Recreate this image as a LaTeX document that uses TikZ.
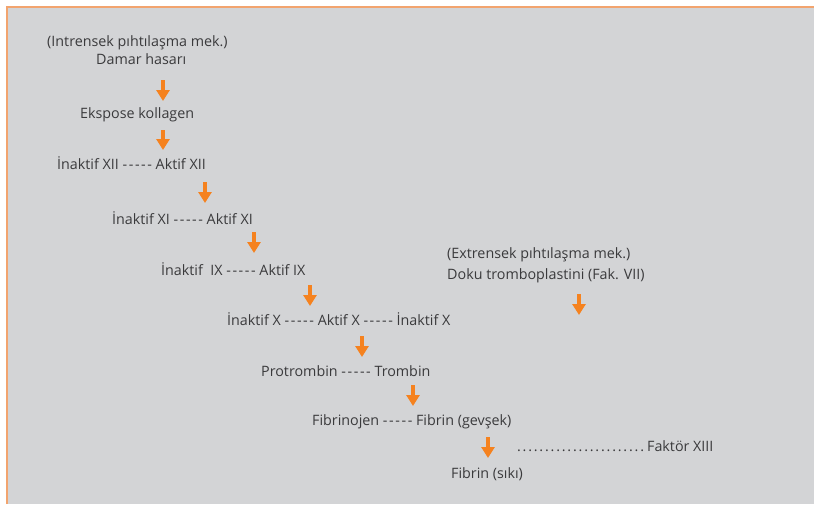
\documentclass[tikz,border=0pt]{standalone}
\usepackage{fontspec}
\setmainfont{Open Sans}
\usepackage{tikz}
\usetikzlibrary{arrows.meta,positioning}
\definecolor{panelgray}{HTML}{D3D4D6}
\definecolor{frameorange}{HTML}{F2A46E}
\definecolor{floworange}{HTML}{F5821F}
\definecolor{textgray}{HTML}{3A3A3C}
\newcommand{\fivedash}{-\kern1.6pt-\kern1.6pt-\kern1.6pt-\kern1.6pt-}
\tikzset{
  steptext/.style={
    anchor=base west,
    inner sep=0pt,
    text=textgray,
    font=\fontsize{14.3}{17}\selectfont
  },
  okarrow/.style={
    -{Triangle[length=11pt,width=13pt]},
    line width=3.2pt,
    draw=floworange
  }
}
\begin{document}
\begin{tikzpicture}[x=1pt,y=-1pt]
\useasboundingbox (0,0) rectangle (814,504);
\fill[panelgray] (8,8) rectangle (814,504);
\draw[frameorange, line width=2pt] (7,504) -- (7,7) -- (814,7);
% intrinsic pathway
\node[steptext] (intr) at (47,46) {(Intrensek pıhtılaşma mek.)};
\node[steptext] (damar) at (96,64) {Damar hasarı};
\node[steptext] (ekspose) at (80,118) {Ekspose kollagen};
\node[steptext] (xii) at (57,169) {İnaktif XII \fivedash{} Aktif XII};
\node[steptext] (xi) at (112,224) {İnaktif XI \fivedash{} Aktif XI};
\node[steptext] (ix) at (161,275) {İnaktif\ \ IX \fivedash{} Aktif IX};
\node[steptext] (x) at (227,325) {İnaktif X \fivedash{} Aktif X \fivedash{} İnaktif X};
\node[steptext] (protr) at (261,376) {Protrombin \fivedash{} Trombin};
\node[steptext] (fibrinojen) at (312,425) {Fibrinojen \fivedash{} Fibrin (gevşek)};
\node[steptext] (fibrin) at (451,478) {Fibrin (sıkı)};
\node[steptext] (faktor) at (516,451) {\hbox to 131pt{\leaders\hbox to 5.6pt{\hss.\hss}\hfill}Faktör XIII};
% extrinsic pathway
\node[steptext] (extr) at (447,258) {(Extrensek pıhtılaşma mek.)};
\node[steptext] (doku) at (447,279) {Doku tromboplastini (Fak. VII)};
\coordinate (extend) at (579,315);
\foreach \a/\b/\ax/\da/\db in {damar/ekspose/163/16/17, ekspose/xii/163/12/19,
  xii/xi/205/13/21, xi/ix/254/8/22, ix/x/310/10/19, x/protr/362/11/19,
  protr/fibrinojen/413/9/19, fibrinojen/fibrin/488/12/20} {
  \draw[okarrow] ([yshift=-\da pt]\a.base -| \ax,0) -- ([yshift=\db pt]\b.base -| \ax,0);
}
\draw[okarrow] ([yshift=-15pt]doku.base -| extend) -- (extend);
\end{tikzpicture}
\end{document}
